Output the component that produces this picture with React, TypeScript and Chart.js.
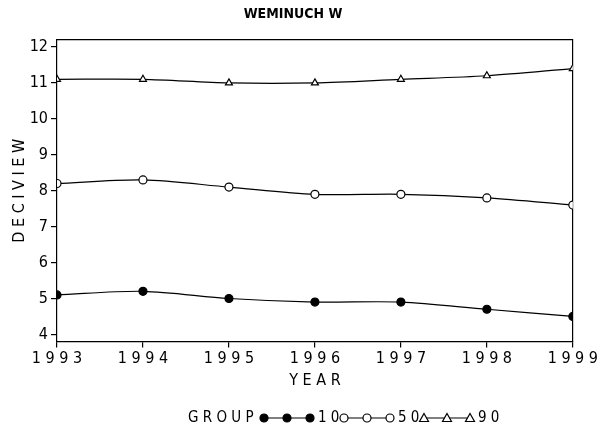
import React, { useEffect, useRef } from "react";
import { Chart, registerables } from "chart.js";
Chart.register(...registerables);

const years = [1993, 1994, 1995, 1996, 1997, 1998, 1999];
const g10 = [5.1, 5.2, 5.0, 4.9, 4.9, 4.7, 4.5];
const g50 = [8.2, 8.3, 8.1, 7.9, 7.9, 7.8, 7.6];
const g90 = [11.1, 11.1, 11.0, 11.0, 11.1, 11.2, 11.4];
const yTicks = [4, 5, 6, 7, 8, 9, 10, 11, 12];
const FONT = "'DejaVu Sans Condensed', 'DejaVu Sans', sans-serif";

const legendPlugin = {
  id: "customLegend",
  afterDraw(chart: any) {
    const ctx = chart.ctx;
    ctx.save();
    ctx.fillStyle = "#000";
    ctx.strokeStyle = "#000";
    ctx.font = `15px ${FONT}`;
    ctx.textBaseline = "middle";
    const y = 418;
    ctx.fillText("G R O U P", 188, y);
    const items = [
      { x: 264, label: "1 0", style: "circle", fill: true },
      { x: 344, label: "5 0", style: "circle", fill: false },
      { x: 424, label: "9 0", style: "triangle", fill: false },
    ];
    ctx.lineWidth = 1.2;
    for (const it of items) {
      ctx.beginPath();
      ctx.moveTo(it.x, y);
      ctx.lineTo(it.x + 46, y);
      ctx.stroke();
      for (const px of [it.x, it.x + 23, it.x + 46]) {
        ctx.beginPath();
        if (it.style === "circle") ctx.arc(px, y, 4, 0, Math.PI * 2);
        else { ctx.moveTo(px, y - 4.5); ctx.lineTo(px + 4.5, y + 3.5); ctx.lineTo(px - 4.5, y + 3.5); ctx.closePath(); }
        if (it.fill) ctx.fill();
        else { ctx.fillStyle = "#fff"; ctx.fill(); ctx.fillStyle = "#000"; }
        ctx.stroke();
      }
      ctx.fillText(it.label, it.x + 54, y);
    }
    ctx.restore();
  },
};

export default function App() {
  const ref = useRef<HTMLCanvasElement>(null);
  useEffect(() => {
    const mk = (data: number[], style: string, fill: boolean) => ({
      data: years.map((x, i) => ({ x, y: data[i] })),
      borderColor: "#000",
      borderWidth: 1.2,
      pointStyle: style,
      pointRadius: 4,
      pointBackgroundColor: fill ? "#000" : "#fff",
      pointBorderColor: "#000",
      tension: 0.3,
    });
    const tickGrid = { display: true, drawOnChartArea: false, drawTicks: true, tickLength: 6, color: "#000", lineWidth: 1.2 };
    const chart = new Chart(ref.current!, {
      type: "line",
      data: {
        datasets: [mk(g10, "circle", true), mk(g50, "circle", false), mk(g90, "triangle", false)],
      },
      plugins: [legendPlugin],
      options: {
        animation: false,
        responsive: false,
        layout: { padding: { left: 8, right: 22, top: 0, bottom: 40 } },
        plugins: {
          legend: { display: false },
          tooltip: { enabled: false },
          title: {
            display: true,
            text: "WEMINUCH W",
            color: "#000",
            font: { family: FONT, size: 14, weight: "bold" },
            padding: { top: 6, bottom: 9 },
          },
        },
        scales: {
          x: {
            type: "linear",
            min: 1993,
            max: 1999,
            grid: tickGrid,
            border: { color: "#000", width: 1.2 },
            ticks: {
              stepSize: 1,
              color: "#000",
              font: { family: FONT, size: 16 },
              padding: 2,
              maxRotation: 0,
              callback: (v: any) => String(v).split("").join(" "),
            },
            title: { display: true, text: "Y E A R", color: "#000", font: { family: FONT, size: 16 }, padding: 0 },
          },
          x2: {
            type: "linear", position: "top", min: 1993, max: 1999,
            grid: { display: false }, ticks: { display: false },
            border: { color: "#000", width: 1.2 },
          },
          y: {
            min: 3.8,
            max: 12.2,
            afterBuildTicks: (s: any) => { s.ticks = yTicks.map((v) => ({ value: v })); },
            afterFit: (s: any) => { s.width = 49; },
            grid: tickGrid,
            border: { color: "#000", width: 1.2 },
            ticks: { color: "#000", font: { family: FONT, size: 16 }, padding: 3 },
            title: { display: true, text: "D E C I V I E W", color: "#000", font: { family: FONT, size: 16 }, padding: 2 },
          },
          y2: {
            position: "right", min: 3.8, max: 12.2,
            grid: { display: false }, ticks: { display: false },
            border: { color: "#000", width: 1.2 },
            afterFit: (s: any) => { s.width = 0; },
          },
        },
      } as any,
    });
    return () => chart.destroy();
  }, []);
  return (
    <div style={{ position: "fixed", left: 0, top: 0, width: 600, height: 430, background: "#fff" }}>
      <canvas ref={ref} width={600} height={430} />
    </div>
  );
}
